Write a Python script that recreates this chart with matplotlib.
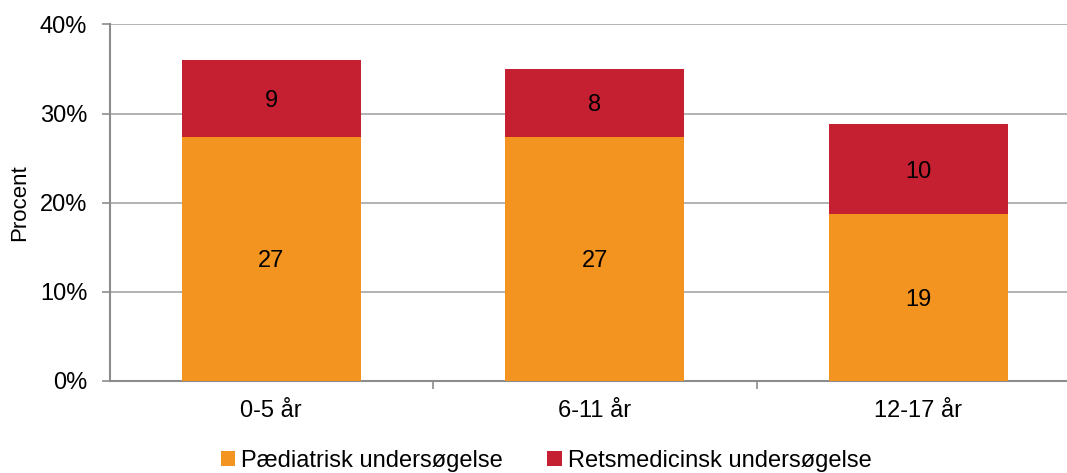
import matplotlib
matplotlib.use("Agg")
import matplotlib.pyplot as plt
import numpy as np

categories = ["0-5 år", "6-11 år", "12-17 år"]
paediatrisk = [27.4, 27.4, 18.7]
retsmedicinsk = [8.6, 7.6, 10.1]
labels_paed = ["27", "27", "19"]
labels_rets = ["9", "8", "10"]
series_names = ["Pædiatrisk undersøgelse", "Retsmedicinsk undersøgelse"]
yticks = [0, 10, 20, 30, 40]

plt.rcParams['font.family'] = ['Liberation Sans', 'DejaVu Sans']
ORANGE = "#F39320"
RED = "#C52032"
GRID = "#A6A6A6"
AXC = "#8C8C8C"
FS = 17

fig = plt.figure(figsize=(10.67, 4.73), dpi=100)
W, H = 1067, 473
left, right = 109.5, 1080
top, bottom = 24.5, 380.7
ax = fig.add_axes([left / W, 1 - bottom / H, (right - left) / W, (bottom - top) / H])

x = np.arange(len(categories))
bw = 0.553
b1 = ax.bar(x, paediatrisk, bw, color=ORANGE, label=series_names[0], zorder=3)
b2 = ax.bar(x, retsmedicinsk, bw, bottom=paediatrisk, color=RED, label=series_names[1], zorder=3)

for i in range(len(categories)):
    ax.text(x[i], paediatrisk[i] / 2, labels_paed[i], ha="center", va="center_baseline", fontsize=FS, zorder=4)
    ax.text(x[i], paediatrisk[i] + retsmedicinsk[i] / 2, labels_rets[i], ha="center", va="center_baseline", fontsize=FS, zorder=4)

ax.set_xlim(-0.5, 2.5)
ax.set_ylim(0, 40)
ax.set_yticks(yticks)
ax.set_yticklabels([f"{v}%" for v in yticks], fontsize=FS)
ax.yaxis.grid(True, color=GRID, linewidth=1.2, zorder=0)
ax.set_axisbelow(True)

ax.set_xticks([0.5, 1.5, 2.5])
ax.set_xticks(x, minor=True)
ax.set_xticklabels([])
ax.set_xticklabels(categories, minor=True, fontsize=FS)
ax.tick_params(axis="x", which="minor", length=0, pad=14)
ax.tick_params(axis="x", which="major", length=6, color=AXC, width=1.2)
ax.tick_params(axis="y", length=6, color=AXC, width=1.2, pad=10)

for s in ["top", "right"]:
    ax.spines[s].set_visible(False)
for s in ["left", "bottom"]:
    ax.spines[s].set_color(AXC)
    ax.spines[s].set_linewidth(1.5)

ax.set_ylabel("Procent", fontsize=16)
ax.yaxis.set_label_coords(-0.082, 0.5)

fig.legend(handles=[b1, b2], labels=series_names, loc="center",
           bbox_to_anchor=(546 / W, 1 - 461 / H), ncol=2, frameon=False,
           fontsize=FS, handlelength=0.6, handleheight=0.6, handletextpad=0.25,
           columnspacing=1.9)

fig.savefig("out.png", dpi=100)
